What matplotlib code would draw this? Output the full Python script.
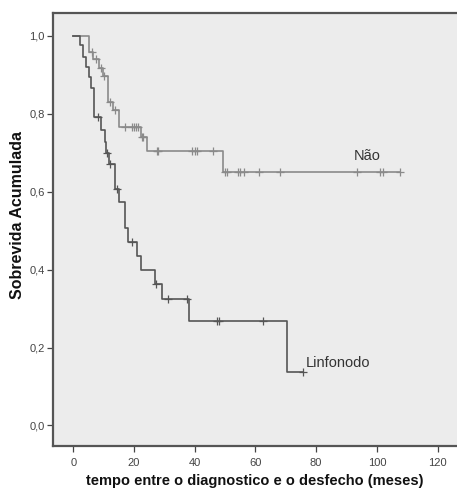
import numpy as np
import matplotlib
matplotlib.use("Agg")
import matplotlib.pyplot as plt

plt.rcParams['font.family'] = ['Liberation Sans', 'DejaVu Sans']

# ---- data ----
lin_event_t = [0, 2.3, 3.1, 4.2, 5.1, 5.8, 6.9, 9.0, 10.3, 10.9, 11.8, 13.7, 15.2,
               17.0, 17.9, 21.1, 22.2, 27.0, 29.1, 38.2, 70.3]
lin_surv = [1.0, 0.976, 0.946, 0.919, 0.893, 0.866, 0.792, 0.758, 0.728, 0.700, 0.671,
            0.606, 0.574, 0.506, 0.471, 0.435, 0.399, 0.363, 0.324, 0.269, 0.136]
lin_censor_t = [8.2, 11.2, 12.1, 14.3, 19.2, 27.3, 31.1, 37.4, 47.4, 48.0, 62.4, 75.6]
lin_end = 75.6

nao_event_t = [0, 5.2, 6.6, 8.4, 9.8, 11.5, 13.2, 15.2, 22.2, 24.2, 49.3]
nao_surv = [1.0, 0.958, 0.941, 0.917, 0.897, 0.830, 0.809, 0.765, 0.741, 0.704, 0.649]
nao_censor_t = [6.1, 7.4, 9.1, 10.2, 12.0, 13.7, 17.0, 19.2, 20.0, 20.7, 21.4, 22.5, 23.0,
                27.5, 28.0, 39.2, 40.1, 40.9, 46.1, 50.0, 50.7, 54.2, 54.9, 56.3, 61.3,
                68.1, 93.4, 101.1, 101.9, 107.6]
nao_end = 107.6

group_labels = ["Não", "Linfonodo"]
xticks = [0, 20, 40, 60, 80, 100, 120]
yticks = [0.0, 0.2, 0.4, 0.6, 0.8, 1.0]


def step_value(ts, ss, t):
    idx = np.searchsorted(ts, t, side='right') - 1
    return ss[idx]


fig = plt.figure(figsize=(4.57, 4.92), dpi=100)
ax = fig.add_axes([0.116, 0.0935, 0.884, 0.881])
ax.set_facecolor('#ececec')

groups = [
    (nao_event_t, nao_surv, nao_censor_t, nao_end, '#8a8a8a'),
    (lin_event_t, lin_surv, lin_censor_t, lin_end, '#555555'),
]
for ts, ss, cs, end, col in groups:
    xs = list(ts) + [end]
    ys = list(ss) + [ss[-1]]
    ax.step(xs, ys, where='post', color=col, lw=1.2, zorder=3)
    cy = [step_value(ts, ss, c) for c in cs]
    ax.plot(cs, cy, linestyle='none', marker='+', ms=6, mew=0.9, color=col, zorder=4)

ax.text(92.5, 0.691, group_labels[0], fontsize=10.5, color='#333333', va='center', ha='left')
ax.text(76.5, 0.16, group_labels[1], fontsize=10.5, color='#333333', va='center', ha='left')

ax.set_xlim(-6.7, 126.4)
ax.set_ylim(-0.0526, 1.059)
ax.set_xticks(xticks)
ax.set_xticklabels([str(x) for x in xticks])
ax.set_yticks(yticks)
ax.set_yticklabels([f"{y:.1f}".replace('.', ',') for y in yticks])
ax.tick_params(axis='both', direction='out', length=4, width=0.9, color='#444444',
               labelsize=8, labelcolor='#444444')
ax.tick_params(axis='x', pad=5)
ax.tick_params(axis='y', pad=2)

for side in ['left', 'top', 'bottom']:
    ax.spines[side].set_color('#555555')
    ax.spines[side].set_linewidth(1.6)
ax.spines['right'].set_visible(False)

ax.set_xlabel('tempo entre o diagnostico e o desfecho (meses)', fontsize=10.5,
              fontweight='bold', color='#111111')
ax.set_ylabel('Sobrevida Acumulada', fontsize=11.5, fontweight='bold', color='#111111')
ax.xaxis.set_label_coords(0.5, -0.064)
ax.yaxis.set_label_coords(-0.089, 0.533)
ax.yaxis.label.set_va('center')
ax.xaxis.label.set_va('top')

fig.savefig('out.png', dpi=100, facecolor='white')
